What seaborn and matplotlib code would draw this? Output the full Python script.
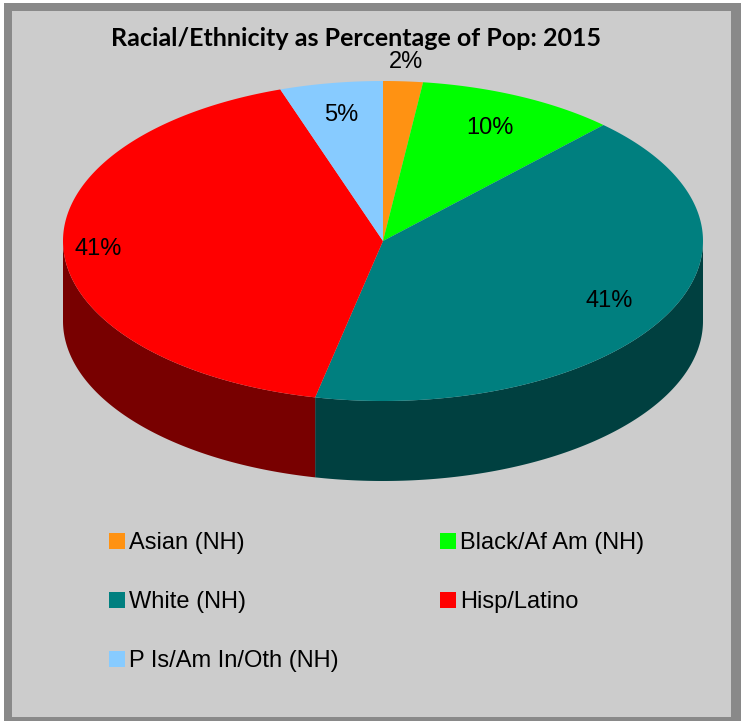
"""
3D-style pie chart: racial/ethnic share of population, 2015
"""

import numpy as np
import matplotlib
matplotlib.use("Agg")
import matplotlib.pyplot as plt
from matplotlib.patches import Polygon, Rectangle, Patch
import seaborn as sns

# Data
categories = ['Asian (NH)', 'Black/Af Am (NH)', 'White (NH)', 'Hisp/Latino', 'P Is/Am In/Oth (NH)']
shares = [2.0, 10.1, 41.3, 41.4, 5.2]
colors = ['#ff9212', '#00ff00', '#007f7f', '#ff0000', '#87cbff']
side_colors = ['#804909', '#007f00', '#004040', '#780000', '#436580']
title = 'Racial/Ethnicity as Percentage of Pop: 2015'

# Layout (pixels)
W, H = 741, 721
cx, cy = 383, 241      # pie centre
a, b = 320, 160        # ellipse half-axes of the top face
depth = 80             # thickness of the pie
label_r = [1.12, 0.78, 0.80, 0.89, 0.80]

sns.set_style("white")
plt.rcParams['font.family'] = ['Liberation Sans', 'DejaVu Sans']
plt.rcParams['text.color'] = 'black'

fig = plt.figure(figsize=(W / 100, H / 100), dpi=100, facecolor='white')
ax = fig.add_axes([0, 0, 1, 1])
ax.set_xlim(0, W)
ax.set_ylim(H, 0)
ax.axis('off')

# frame
ax.add_patch(Rectangle((4, 3), 760, 760, facecolor='#898989', edgecolor='none', zorder=0))
ax.add_patch(Rectangle((12, 11), 719, 706, facecolor='#cccccc', edgecolor='none', zorder=0))


def pt(theta, drop=0.0):
    # theta: degrees clockwise from 12 o'clock
    t = np.radians(theta)
    return cx + a * np.sin(t), cy - b * np.cos(t) + drop


vals = np.array(shares)
bounds = np.concatenate([[0], np.cumsum(vals) / vals.sum() * 360])

# side walls (only the front half, 90..270 deg, is visible)
for i in range(len(vals)):
    t0, t1 = max(bounds[i], 90), min(bounds[i + 1], 270)
    if t1 <= t0:
        continue
    th = np.linspace(t0, t1, 200)
    xs, ys = pt(th)
    top = np.column_stack([xs, ys])
    bot = np.column_stack([xs, ys + depth])[::-1]
    ax.add_patch(Polygon(np.vstack([top, bot]), closed=True,
                         facecolor=side_colors[i], edgecolor='none', zorder=1))

# top faces
for i in range(len(vals)):
    th = np.linspace(bounds[i], bounds[i + 1], 300)
    xs, ys = pt(th)
    poly = np.vstack([[cx, cy], np.column_stack([xs, ys])])
    ax.add_patch(Polygon(poly, closed=True, facecolor=colors[i],
                         edgecolor='none', zorder=2))

# percentage labels
for i in range(len(vals)):
    mid = (bounds[i] + bounds[i + 1]) / 2
    t = np.radians(mid)
    x = cx + label_r[i] * a * np.sin(t)
    y = cy - label_r[i] * b * np.cos(t)
    ax.text(x, y, f"{round(vals[i] / vals.sum() * 100):.0f}%", ha='center', va='center',
            fontsize=17, color='black', zorder=3)

ax.text(356, 39, title, ha='center', va='center', fontsize=18,
        fontweight='bold', color='black', family=['Lato', 'DejaVu Sans'], zorder=3)

# legend, row-wise order in 2 columns
handles = [Patch(facecolor=c, edgecolor='none') for c in colors]
order = [0, 2, 4, 1, 3]
leg = ax.legend([handles[k] for k in order], [categories[k] for k in order],
                ncol=2, loc='upper left', bbox_to_anchor=(109 / W, 1 - 532 / H),
                bbox_transform=fig.transFigure, frameon=False, fontsize=17,
                labelcolor='black',
                handlelength=0.68, handleheight=0.68, handletextpad=0.17,
                labelspacing=1.57, columnspacing=4.3, borderpad=0, borderaxespad=0)

fig.savefig('out.png', dpi=100, facecolor='white')
